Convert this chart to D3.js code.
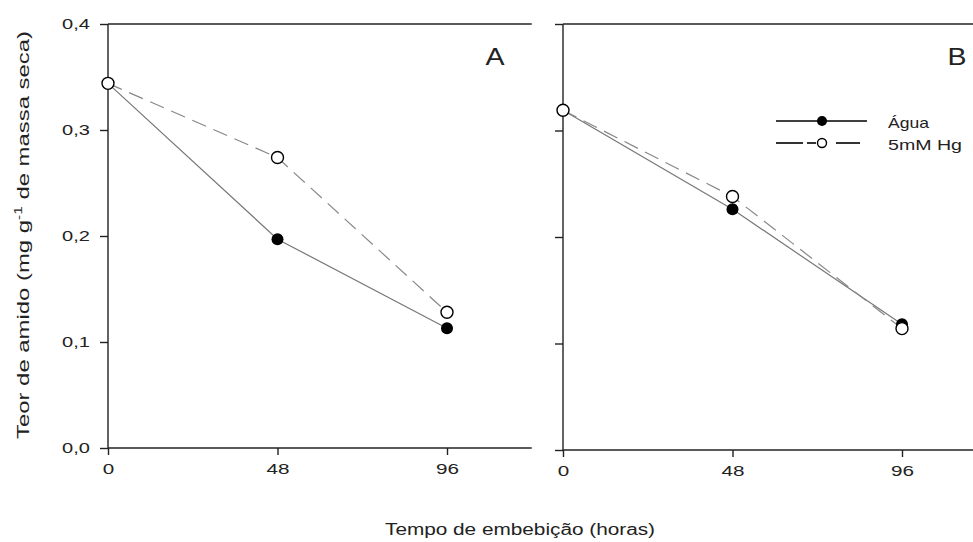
<!DOCTYPE html>
<html><head><meta charset="utf-8">
<script src="https://cdn.jsdelivr.net/npm/d3@7"></script>
<style>body{margin:0;background:#fff}svg{display:block}text{font-family:"Liberation Sans",Arial,sans-serif;fill:#222}</style>
</head><body><svg width="973" height="542"></svg>
<script>
const hours = [0, 48, 96];
const xTicks = [0, 48, 96];
const yTicks = [0, 0.1, 0.2, 0.3, 0.4];
const seriesNames = ["Água", "5mM Hg"];
const aguaA = [0.344, 0.197, 0.113];
const hgA = [0.344, 0.274, 0.128];
const aguaB = [0.319, 0.226, 0.118];
const hgB = [0.319, 0.238, 0.114];
const panelLabels = ["A", "B"];

const svg = d3.select("svg");
const fmt = d => d3.format(".1f")(d).replace(".", ",");

const panels = [
  {left:108, top:24, bottom:448, showY:true, labX:495},
  {left:563, top:24, bottom:450, showY:false, labX:957}
];
const pxPer48 = 169.5;
const data = [[aguaA, hgA], [aguaB, hgB]];

panels.forEach((p,i) => {
  const x = d3.scaleLinear().domain([0,120]).range([p.left, p.left + pxPer48*120/48]);
  const y = d3.scaleLinear().domain([0,0.4]).range([p.bottom, p.top]);
  const g = svg.append("g");
  g.append("line").attr("x1", p.left).attr("x2", x(120)).attr("y1", p.top).attr("y2", p.top)
    .attr("stroke","#222").attr("stroke-width",1.4);
  const yAxis = d3.axisLeft(y).tickValues(yTicks).tickSize(8).tickPadding(10)
    .tickFormat(p.showY ? fmt : "");
  const ya = g.append("g").attr("transform",`translate(${p.left},0)`).call(yAxis);
  const xAxis = d3.axisBottom(x).tickValues(xTicks).tickSize(7).tickPadding(9).tickFormat(d3.format("d"));
  const xa = g.append("g").attr("transform",`translate(0,${p.bottom})`).call(xAxis);
  [ya, xa].forEach(a => {
    a.select(".domain").attr("stroke","#222").attr("stroke-width",1.4);
    a.selectAll(".tick line").attr("stroke","#222").attr("stroke-width",1.4);
    a.selectAll("text").attr("font-size",14).attr("fill","#222")
      .attr("font-family","Liberation Sans, Arial, sans-serif")
      .attr("lengthAdjust","spacingAndGlyphs")
      .attr("textLength", function(){ const t = this.textContent; return t.length ? t.length*(t.includes(",")?9.3:11.5) : null; });
  });
  ya.select(".domain").attr("d", `M0,${p.bottom}V${p.top}`);
  xa.select(".domain").attr("d", `M${p.left},0H${x(120)}`);

  const [ag, hg] = data[i];
  const line = d3.line().x((d,j)=>x(hours[j])).y(d=>y(d));
  g.append("path").datum(ag).attr("d", line).attr("fill","none")
    .attr("stroke","#777").attr("stroke-width",1.2);
  g.append("path").datum(hg).attr("d", line).attr("fill","none")
    .attr("stroke","#888").attr("stroke-width",1.2).attr("stroke-dasharray","15,8");
  g.selectAll(".ag").data(ag).join("circle").attr("cx",(d,j)=>x(hours[j])).attr("cy",d=>y(d))
    .attr("r",6).attr("fill","#000");
  g.selectAll(".hg").data(hg).join("circle").attr("cx",(d,j)=>x(hours[j])).attr("cy",d=>y(d))
    .attr("r",6).attr("fill","#fff").attr("stroke","#000").attr("stroke-width",1.4);

  g.append("text").attr("x", p.labX).attr("y", 65).attr("text-anchor","middle")
    .attr("font-size",24).attr("textLength",19).attr("lengthAdjust","spacingAndGlyphs").text(panelLabels[i]);
});

// legend
const lg = svg.append("g");
const legY = [121, 143];
lg.append("line").attr("x1",776).attr("x2",867).attr("y1",legY[0]).attr("y2",legY[0]).attr("stroke","#000").attr("stroke-width",1.6);
lg.append("circle").attr("cx",822).attr("cy",legY[0]).attr("r",5).attr("fill","#000");
[[776,803],[807,816],[828,837],[837,860]].slice(0,2).concat([[836,860]]).forEach(s =>
  lg.append("line").attr("x1",s[0]).attr("x2",s[1]).attr("y1",legY[1]).attr("y2",legY[1]).attr("stroke","#000").attr("stroke-width",1.6));
lg.append("circle").attr("cx",822).attr("cy",legY[1]).attr("r",4.5).attr("fill","#fff").attr("stroke","#000").attr("stroke-width",1.4);
const legLen = [41, 74];
seriesNames.forEach((n,i) => lg.append("text").attr("x",888).attr("y",legY[i]+7).attr("font-size",15)
  .attr("textLength",legLen[i]).attr("lengthAdjust","spacingAndGlyphs").text(n));

// axis titles
const yt = svg.append("text").attr("transform","translate(29,235) rotate(-90)").attr("text-anchor","middle")
  .attr("font-size",17).attr("textLength",408).attr("lengthAdjust","spacingAndGlyphs");
yt.append("tspan").text("Teor de amido (mg g");
yt.append("tspan").attr("font-size",11).attr("dy",-7).text("-1");
yt.append("tspan").attr("dy",7).text(" de massa seca)");
svg.append("text").attr("x",520).attr("y",535).attr("text-anchor","middle").attr("font-size",16)
  .attr("textLength",270).attr("lengthAdjust","spacingAndGlyphs").text("Tempo de embebição (horas)");
</script></body></html>
